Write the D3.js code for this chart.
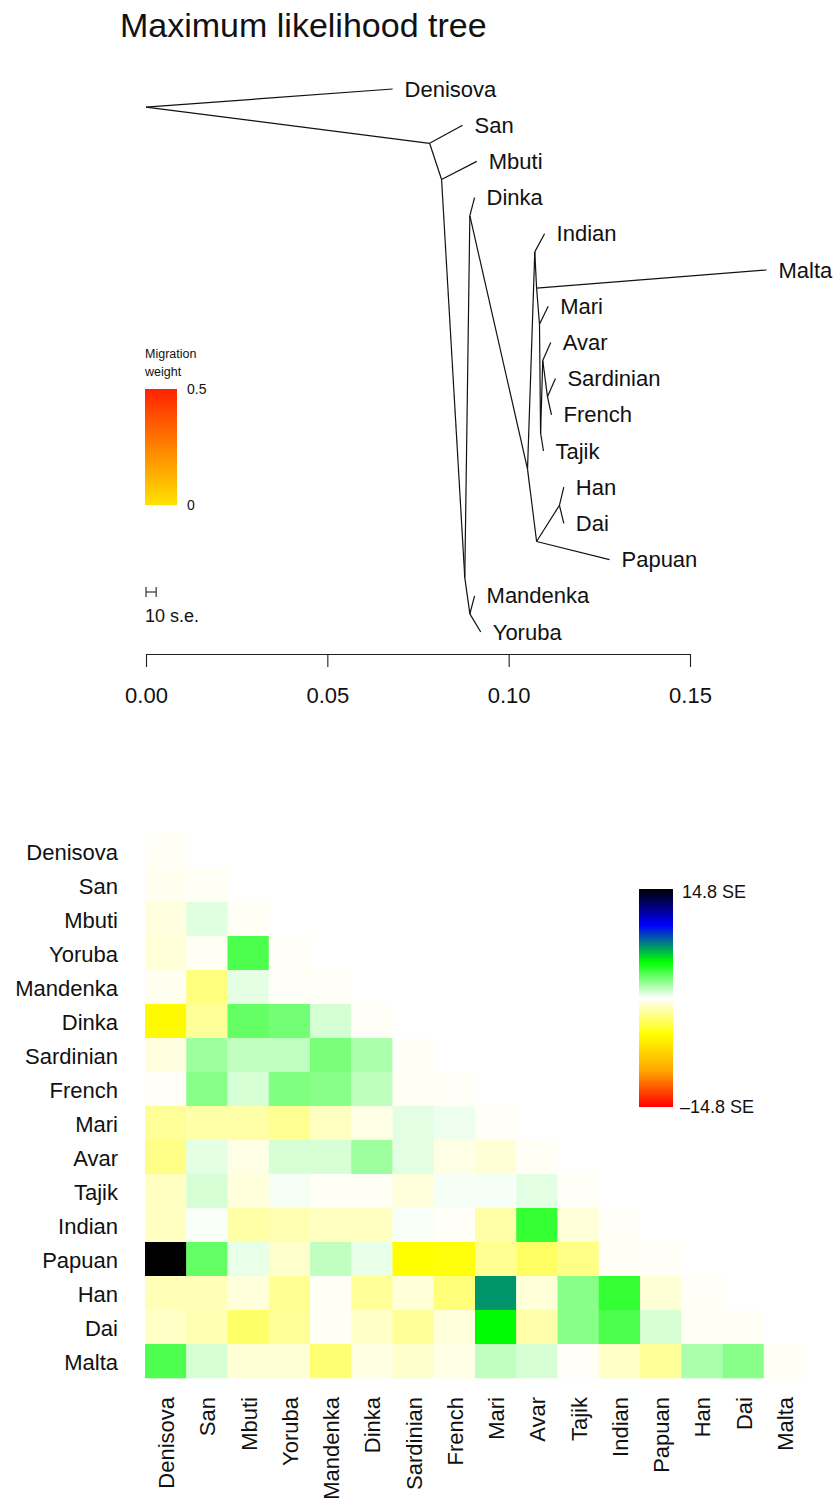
<!DOCTYPE html>
<html>
<head>
<meta charset="utf-8">
<script src="https://cdn.jsdelivr.net/npm/d3@7"></script>
<style>
  body { margin: 0; background: #fff; }
  svg text { font-family: "Liberation Sans", Arial, Helvetica, sans-serif; fill: #111; }
</style>
</head>
<body>
<svg id="chart" width="835" height="1501"></svg>
<script>
// ---- Tree: nodes in pre-order, first child always listed before its sibling ----
const nodeId = ["root", "Denisova", "n1", "San", "n2", "Mbuti", "n3", "n4", "Dinka", "n5",
  "n6", "Indian", "n7", "Malta", "n8", "Mari", "n9", "n10", "Avar", "n11",
  "Sardinian", "French", "Tajik", "n12", "n13", "Han", "Dai", "Papuan", "n14", "Mandenka", "Yoruba"];
const nodeParent = ["", "root", "root", "n1", "n1", "n2", "n2", "n3", "n4", "n4",
  "n5", "n6", "n6", "n7", "n7", "n8", "n8", "n9", "n10", "n10",
  "n11", "n11", "n9", "n5", "n12", "n13", "n13", "n12", "n3", "n14", "n14"];
// drift parameter (distance from the root) of every node
const nodeDrift = [0, 0.0680, 0.0782, 0.0873, 0.0815, 0.0912, 0.0879, 0.0893, 0.0906, 0.1052,
  0.1072, 0.1099, 0.1077, 0.1711, 0.1085, 0.1109, 0.1088, 0.1094, 0.1116, 0.1107,
  0.1129, 0.1118, 0.1096, 0.1077, 0.1140, 0.1152, 0.1152, 0.1278, 0.0893, 0.0906, 0.0923];

const driftTicks = [0, 0.05, 0.10, 0.15];
const meanSE = 0.00028;          // average standard error, drawn as a 10 s.e. bar
const migrationRange = [0, 0.5];

// ---- Residual fit: lower triangle, standardized residuals (SE units) ----
const populations = ["Denisova", "San", "Mbuti", "Yoruba", "Mandenka", "Dinka", "Sardinian", "French",
  "Mari", "Avar", "Tajik", "Indian", "Papuan", "Han", "Dai", "Malta"];
const residuals = [
  [-0.2],
  [-0.3, -0.2],
  [-0.6, 0.6, -0.2],
  [-0.75, -0.2, 3.45, -0.15],
  [-0.3, -2.5, 0.5, -0.15, -0.15],
  [-5.2, -2.0, 3.0, 2.7, 0.85, -0.15],
  [-0.6, 1.9, 1.2, 1.2, 2.6, 1.6, -0.2],
  [-0.15, 2.3, 0.8, 2.45, 2.3, 1.25, -0.2, -0.15],
  [-2.0, -1.7, -1.7, -2.1, -1.2, -0.5, 0.55, 0.3, -0.15],
  [-2.3, 0.5, -0.5, 0.8, 0.8, 1.9, 0.55, -0.5, -0.8, -0.2],
  [-1.2, 0.8, -0.7, 0.2, -0.2, -0.2, -0.7, 0.2, 0.2, 0.55, -0.15],
  [-1.2, 0.15, -1.7, -1.5, -1.2, -1.2, 0.15, -0.15, -1.7, 3.95, -0.75, -0.15],
  [14.8, 3.0, 0.45, -1.0, 1.2, 0.45, -4.93, -4.7, -2.1, -3.0, -2.3, -0.2, -0.15],
  [-1.4, -1.4, -0.7, -2.1, -0.2, -2.0, -0.75, -2.6, 7.0, -0.75, 2.3, 3.95, -0.8, -0.15],
  [-1.1, -1.5, -2.95, -2.0, -0.2, -1.1, -2.0, -0.7, 5.0, -1.65, 2.3, 3.45, 0.8, -0.2, -0.2],
  [3.4, 0.8, -0.8, -0.8, -2.7, -0.55, -1.0, -0.5, 1.2, 0.8, -0.15, -1.1, -2.0, 1.6, 2.3, -0.2]
];
const residMax = 14.8;
const residPalette = ["red", "orange", "yellow", "white", "#00ff00", "blue", "black"];

const svg = d3.select("#chart");

// ================= Tree panel =================
svg.append("text")
  .attr("x", 120).attr("y", 37)
  .style("font-size", "34px")
  .text("Maximum likelihood tree");

const table = nodeId.map((id, i) => ({ id, parent: nodeParent[i] || null, drift: nodeDrift[i] }));
const tree = d3.stratify().id(d => d.id).parentId(d => d.parent)(table);

// tips take consecutive rows; an inner node sits where its first child's tips end
tree.leaves().forEach((leaf, i) => { leaf.row = i; });
tree.eachAfter(node => {
  if (node.children) {
    const first = node.children[0];
    node.row = d3.max(first.leaves(), l => l.row) + 0.5;
  }
});

const x = d3.scaleLinear().domain([0, 0.15]).range([146, 690]);
const y = d3.scaleLinear().domain([0, tree.leaves().length - 1]).range([89, 632]);

const treeG = svg.append("g");
treeG.selectAll("line.branch")
  .data(tree.links())
  .join("line")
  .attr("class", "branch")
  .attr("x1", d => x(d.source.data.drift))
  .attr("y1", d => y(d.source.row))
  .attr("x2", d => x(d.target.data.drift))
  .attr("y2", d => y(d.target.row))
  .attr("stroke", "#111")
  .attr("stroke-width", 1.2);

treeG.selectAll("text.tip")
  .data(tree.leaves())
  .join("text")
  .attr("class", "tip")
  .attr("x", d => x(d.data.drift) + 12)
  .attr("y", d => y(d.row))
  .attr("dominant-baseline", "central")
  .style("font-size", "22px")
  .text(d => d.data.id);

// drift axis
svg.append("g")
  .attr("transform", "translate(0,654)")
  .call(d3.axisBottom(x).tickValues(driftTicks).tickFormat(d3.format(".2f"))
    .tickSize(13).tickSizeOuter(0).tickPadding(20))
  .call(g => g.selectAll("path,line").attr("stroke", "#222").attr("stroke-width", 1.1))
  .call(g => g.selectAll("text").style("font-size", "22px").attr("fill", "#111")
    .style("font-family", "\"Liberation Sans\", Arial, sans-serif"));

// migration weight legend
const defs = svg.append("defs");
const migGrad = defs.append("linearGradient").attr("id", "migGrad")
  .attr("x1", 0).attr("y1", 1).attr("x2", 0).attr("y2", 0);
const migColor = d3.interpolateHsl("#ffe200", "#ff2200");
d3.range(0, 1.0001, 0.1).forEach(t => {
  migGrad.append("stop").attr("offset", t).attr("stop-color", migColor(t));
});
const migScale = d3.scaleLinear().domain(migrationRange).range([505, 389]);
svg.append("text").attr("x", 145).attr("y", 358).style("font-size", "12.5px").text("Migration");
svg.append("text").attr("x", 145).attr("y", 376).style("font-size", "12.5px").text("weight");
svg.append("rect")
  .attr("x", 145).attr("width", 32)
  .attr("y", migScale(migrationRange[1]))
  .attr("height", migScale(migrationRange[0]) - migScale(migrationRange[1]))
  .attr("fill", "url(#migGrad)");
svg.selectAll("text.migtick")
  .data(migrationRange)
  .join("text")
  .attr("class", "migtick")
  .attr("x", 187)
  .attr("y", d => migScale(d))
  .attr("dominant-baseline", "central")
  .style("font-size", "14px")
  .text(d => d === 0 ? "0" : d3.format(".1f")(d));

// scale bar: 10 standard errors
const barLen = x(10 * meanSE) - x(0);
const barY = 592;
const bar = svg.append("g").attr("stroke", "#222").attr("stroke-width", 1.1);
bar.append("line").attr("x1", x(0)).attr("x2", x(0) + barLen).attr("y1", barY).attr("y2", barY);
bar.append("line").attr("x1", x(0)).attr("x2", x(0)).attr("y1", barY - 5).attr("y2", barY + 5);
bar.append("line").attr("x1", x(0) + barLen).attr("x2", x(0) + barLen).attr("y1", barY - 5).attr("y2", barY + 5);
svg.append("text").attr("x", 145).attr("y", 616).attr("dominant-baseline", "central")
  .style("font-size", "18px").text("10 s.e.");

// ================= Residual panel =================
const col = d3.scaleBand().domain(populations).range([145, 805]);
const row = d3.scaleBand().domain(populations).range([834, 1378]);
const residColor = d3.scaleLinear()
  .domain(d3.range(7).map(i => -residMax + i * residMax / 3))
  .range(residPalette)
  .interpolate(d3.interpolateRgb);

const cells = [];
residuals.forEach((vals, i) => vals.forEach((v, j) => cells.push({ r: populations[i], c: populations[j], v })));

svg.append("g").selectAll("rect")
  .data(cells)
  .join("rect")
  .attr("x", d => col(d.c))
  .attr("y", d => row(d.r))
  .attr("width", col.bandwidth() + 0.3)
  .attr("height", row.bandwidth() + 0.3)
  .attr("fill", d => residColor(d.v));

svg.append("g").selectAll("text")
  .data(populations)
  .join("text")
  .attr("x", 118)
  .attr("y", d => row(d) + row.bandwidth() / 2 + 1)
  .attr("text-anchor", "end")
  .attr("dominant-baseline", "central")
  .style("font-size", "22px")
  .text(d => d);

svg.append("g").selectAll("text")
  .data(populations)
  .join("text")
  .attr("transform", d => `translate(${col(d) + col.bandwidth() / 2 + 1},1397) rotate(-90)`)
  .attr("text-anchor", "end")
  .attr("dominant-baseline", "central")
  .style("font-size", "22px")
  .text(d => d);

// residual colour key
const keyScale = d3.scaleLinear().domain([-residMax, residMax]).range([1107, 889]);
const keyGrad = defs.append("linearGradient").attr("id", "keyGrad")
  .attr("x1", 0).attr("y1", 1).attr("x2", 0).attr("y2", 0);
residPalette.forEach((c, i) => {
  keyGrad.append("stop").attr("offset", i / (residPalette.length - 1)).attr("stop-color", c);
});
svg.append("rect")
  .attr("x", 639).attr("width", 34)
  .attr("y", keyScale(residMax))
  .attr("height", keyScale(-residMax) - keyScale(residMax))
  .attr("fill", "url(#keyGrad)");
svg.selectAll("text.keylab")
  .data([residMax, -residMax])
  .join("text")
  .attr("class", "keylab")
  .attr("x", d => d > 0 ? 682 : 680)
  .attr("y", d => keyScale(d) + (d > 0 ? 3 : 0))
  .attr("dominant-baseline", "central")
  .style("font-size", "18px")
  .text(d => (d < 0 ? "\u2013" : "") + Math.abs(d).toFixed(1) + " SE");
</script>
</body>
</html>
